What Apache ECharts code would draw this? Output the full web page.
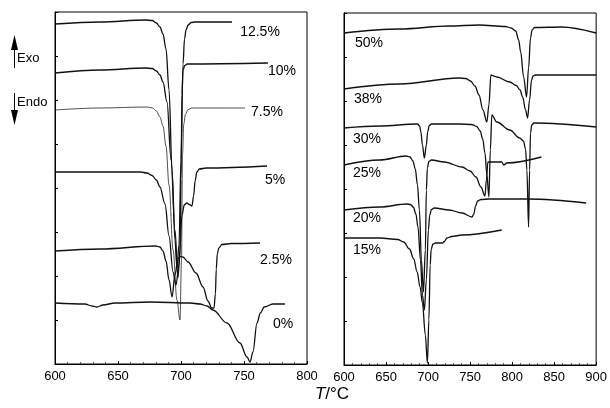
<!DOCTYPE html>
<html><head><meta charset="utf-8">
<script src="https://cdn.jsdelivr.net/npm/echarts@6/dist/echarts.min.js"></script>
<style>html,body{margin:0;padding:0;background:#fff}#c{width:610px;height:408px}</style>
</head><body><div id="c"></div>
<script>
// ---- data: [T (°C), signal (arbitrary units, offset per curve)] ----
const leftNames = ['12.5%', '10%', '7.5%', '5%', '2.5%', '0%'];
const c12_5 = [[600,340],[635.7,342],[672,344],[677,343.5],[680.5,341],[683.3,337],[685.7,330],[688.1,315],[690.5,274],[692.9,194],[695.2,124],[696.8,96],[698.4,119],[700,204],[701.6,300],[702.8,325],[704,334],[705.6,339],[708,341.5],[711.1,342],[740.5,342]];
const c10 = [[600,291],[635.7,294],[672,296],[677,295.5],[680.5,293],[683.3,289],[685.7,282],[688.9,262],[692.1,204],[695.2,134],[697.6,86],[699.2,114],[700,184],[700.8,270],[701.6,294],[703,298.5],[705,300],[769,301]];
const c7_5 = [[600,254],[635.7,256],[673,257],[677.5,256],[680.5,253],[683.3,247],[685.7,238],[688.1,218],[690.5,179],[693.7,114],[696.8,64],[699.2,44],[700.4,104],[701.2,210],[702.2,240],[703.6,250],[705.6,254.5],[708.7,256],[750.8,256]];
const c5 = [[600,192],[635.7,192],[668,192],[673,191],[677,188.5],[680.5,184],[683.3,177],[687.3,160],[690.5,128],[693.7,92],[696,79],[698.4,99],[700.8,149],[702.6,159],[704.5,161],[706.6,159.5],[708.7,158],[710,168],[711.2,183],[712.6,192],[714.5,195],[720,196],[768.3,198]];
const c2_5 = [[600,113],[635.7,115],[680,118],[683.3,117],[685.7,113],[688.1,103],[690.5,84],[692.9,67],[695.2,89],[697.6,105],[699.5,107.5],[701.5,107],[705.6,102],[711.9,91],[717.5,77],[721.4,63],[724.4,56],[726.2,56],[727.3,70],[728,95],[728.8,110],[730,116],[732.5,119.5],[740,120.5],[762.7,121]];
const c0 = [[600,61],[623.8,60],[629.4,58],[633.3,57],[638.1,59],[647.6,61],[675.4,62],[707.1,61],[715.1,60],[720.6,58],[725.4,54],[736.5,41],[746.8,21],[752.4,7],[754.8,2],[757.1,12],[760.3,41],[763,51],[766,57],[773,60],[782.5,60]];

const rightNames = ['50%', '38%', '30%', '25%', '20%', '15%'];
const c50 = [[600,332],[666.1,336],[725.1,339],[760.6,340],[792,338.5],[799,337],[804.3,334],[807.8,325],[810.2,313],[813.7,288],[817.2,268],[819.6,297],[821.9,327],[823.8,335],[826.5,337.5],[858.6,338],[899.9,332]];
const c38 = [[600,276],[666.1,281],[737,287],[745,286.5],[750.5,284],[755.8,279],[760.6,270],[765.3,255],[770,243],[772.4,260],[774.8,290],[778.3,289],[781.8,288],[797.2,283],[805,279.5],[809.5,275],[812.5,268],[816,255],[818.4,247],[820.8,265],[823.1,285],[825,289],[827.5,290],[899.9,290]];
const c30 = [[600,237],[642.5,239],[687.4,241],[690,239],[691.5,233],[693.3,220],[695.6,207],[698,220],[699.5,233],[701.5,239.5],[704,241],[737,241],[752,240.5],[758,238.5],[762,234],[765,226],[767.7,212],[770,190],[772.4,168],[774.1,215],[775.9,250],[781.8,243],[797.2,235],[809,227],[813.5,224],[816,216],[817.6,195],[819.6,138],[820.8,195],[821.9,232],[823.4,240],[826,242],[899.9,238]];
const c25 = [[600,200],[642.5,205],[674,209],[678.5,208],[682,204],[684.8,196],[687.4,180],[689.7,155],[692.1,105],[694.5,73],[696.8,115],[698,175],[699.2,197],[701,203.5],[704,205],[719.2,203],[740.5,198],[750,194],[757,188],[762.9,178],[767.7,169],[769.4,185],[771.2,203],[778.3,203],[787.7,203],[790.1,200],[793.6,202],[834.9,208]];
const c20 = [[600,155],[642.5,158],[675,161],[679,160.5],[682.5,158],[685.5,151],[688,138],[691,105],[693.3,70],[695.6,55],[698,85],[700.4,135],[702,150],[704,155.5],[707.4,157],[725.1,155],[740.5,152],[752.3,148],[754.5,151],[756.5,159],[759,164],[763,165.5],[772.4,166],[819.6,166],[888.1,162]];
const c15 = [[600,127],[642.5,127],[664,125.5],[671,123],[677.9,116],[683,106],[687,93],[690.5,78],[693.3,62],[696.8,30],[699.2,2],[701,45],[702.5,100],[703.8,116],[705.8,121],[709,122],[716.9,122],[719.5,123.5],[722.5,127],[728,128.5],[740.5,130],[787.7,135]];

const leftTicks = [600, 650, 700, 750, 800];
const rightTicks = [600, 650, 700, 750, 800, 850, 900];

// ---- chart ----
const leftData = [c12_5, c10, c7_5, c5, c2_5, c0];
const rightData = [c50, c38, c30, c25, c20, c15];
const series = [];
leftData.forEach((d, i) => series.push({
  name: leftNames[i], type: 'line', xAxisIndex: 0, yAxisIndex: 0, data: d,
  showSymbol: false, smooth: 0.35, smoothMonotone: 'x',
  lineStyle: { color: i === 2 ? '#222' : '#111', width: i === 2 ? 0.8 : 1.3 }, silent: true
}));
rightData.forEach((d, i) => series.push({
  name: rightNames[i], type: 'line', xAxisIndex: 1, yAxisIndex: 1, data: d,
  showSymbol: false, smooth: 0.35, smoothMonotone: 'x',
  lineStyle: { color: '#111', width: 1.3 }, silent: true
}));

const axisX = (min, max, idx) => ({
  type: 'value', gridIndex: idx, min: min, max: max, interval: 50,
  axisLine: { show: true, lineStyle: { color: '#000', width: 1 } },
  axisTick: { show: true, inside: true, length: 3, lineStyle: { color: '#000' } },
  minorTick: { show: true, splitNumber: 5, length: 2, lineStyle: { color: '#555' } },
  splitLine: { show: false },
  axisLabel: { color: '#000', fontSize: 13, fontFamily: 'Liberation Sans, Arial, sans-serif', margin: 6 }
});
const axisY = (idx) => ({
  type: 'value', gridIndex: idx, min: 0, max: 352, interval: 44,
  axisLine: { show: true, lineStyle: { color: '#000' } },
  axisTick: { show: true, inside: true, length: 3, lineStyle: { color: '#000' } },
  axisLabel: { show: false }, splitLine: { show: false }
});

const labelFont = '14px "Liberation Sans", Arial, sans-serif';
const txt = (s, x, y, align) => ({ type: 'text', x: x, y: y,
  style: { text: s, font: labelFont, fill: '#000', align: align || 'center', verticalAlign: 'middle' } });

const graphics = [
  txt('12.5%', 260, 32), txt('10%', 282, 71), txt('7.5%', 267, 112), txt('5%', 275, 180),
  txt('2.5%', 276, 260), txt('0%', 283, 324),
  txt('50%', 369, 43), txt('38%', 368, 99), txt('30%', 367, 139), txt('25%', 367, 173),
  txt('20%', 367, 218), txt('15%', 367, 250),
  // Exo / Endo indicators
  { type: 'line', shape: { x1: 14.5, y1: 48, x2: 14.5, y2: 68 }, style: { stroke: '#000', lineWidth: 1 } },
  { type: 'polygon', shape: { points: [[14.5, 35], [11, 50], [18, 50]] }, style: { fill: '#000' } },
  { type: 'text', x: 17, y: 58, style: { text: 'Exo', font: '13px "Liberation Sans", Arial, sans-serif', fill: '#000', verticalAlign: 'middle' } },
  { type: 'line', shape: { x1: 14.5, y1: 93, x2: 14.5, y2: 112 }, style: { stroke: '#000', lineWidth: 1 } },
  { type: 'polygon', shape: { points: [[14.5, 125], [11, 110], [18, 110]] }, style: { fill: '#000' } },
  { type: 'text', x: 17, y: 102, style: { text: 'Endo', font: '13px "Liberation Sans", Arial, sans-serif', fill: '#000', verticalAlign: 'middle' } },
  // x-axis title
  { type: 'text', x: 332, y: 394, style: {
      text: '{i|T}{n|/°C}', align: 'center', verticalAlign: 'middle',
      rich: { i: { fontStyle: 'italic', fontSize: 17, fontFamily: 'Liberation Sans, Arial, sans-serif', fill: '#000' },
              n: { fontSize: 17, fontFamily: 'Liberation Sans, Arial, sans-serif', fill: '#000' } } } }
];

const chart = echarts.init(document.getElementById('c'), null, { renderer: 'canvas' });
chart.setOption({
  animation: false,
  backgroundColor: '#fff',
  grid: [
    { left: 55, right: 303, top: 12, bottom: 44, show: true, borderColor: '#000', borderWidth: 1, backgroundColor: 'transparent' },
    { left: 344, right: 12, top: 13, bottom: 43, show: true, borderColor: '#000', borderWidth: 1, backgroundColor: 'transparent' }
  ],
  xAxis: [axisX(leftTicks[0], leftTicks[leftTicks.length - 1], 0), axisX(rightTicks[0], rightTicks[rightTicks.length - 1], 1)],
  yAxis: [axisY(0), axisY(1)],
  series: series,
  graphic: graphics
});
</script></body></html>
